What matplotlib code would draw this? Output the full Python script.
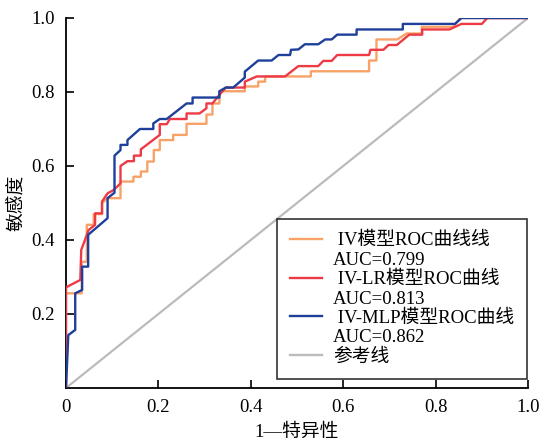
import matplotlib.pyplot as plt
from matplotlib.lines import Line2D

plt.rcParams['font.family'] = ['Liberation Serif', 'Noto Sans CJK SC']

# IV model
fpr_iv = [0, 0, 0.034, 0.034, 0.045, 0.045, 0.06, 0.06, 0.078, 0.078, 0.09, 0.118, 0.118,
          0.146, 0.146, 0.162, 0.162, 0.176, 0.176, 0.19, 0.19, 0.203, 0.203, 0.232, 0.232,
          0.261, 0.261, 0.304, 0.304, 0.317, 0.317, 0.332, 0.332, 0.387, 0.387, 0.416, 0.416,
          0.431, 0.431, 0.530, 0.530, 0.656, 0.656, 0.672, 0.672, 0.717, 0.737, 0.77, 0.77,
          0.838, 0.853, 1.0]
tpr_iv = [0, 0.256, 0.256, 0.341, 0.341, 0.441, 0.441, 0.47, 0.47, 0.5, 0.513, 0.513, 0.558,
          0.558, 0.571, 0.571, 0.585, 0.585, 0.612, 0.612, 0.643, 0.643, 0.670, 0.670, 0.684,
          0.684, 0.714, 0.714, 0.739, 0.739, 0.769, 0.769, 0.802, 0.802, 0.815, 0.815, 0.828,
          0.828, 0.842, 0.842, 0.856, 0.856, 0.885, 0.885, 0.942, 0.942, 0.958, 0.958, 0.976,
          0.976, 1.0, 1.0]

# IV-LR model
fpr_lr = [0, 0, 0.031, 0.033, 0.049, 0.063, 0.063, 0.078, 0.078, 0.09, 0.103, 0.118, 0.118,
          0.133, 0.147, 0.147, 0.162, 0.162, 0.203, 0.203, 0.218, 0.225, 0.261, 0.261, 0.289,
          0.304, 0.304, 0.317, 0.332, 0.346, 0.387, 0.387, 0.413, 0.474, 0.503, 0.546, 0.557,
          0.575, 0.587, 0.656, 0.659, 0.687, 0.698, 0.716, 0.743, 0.771, 0.771, 0.830, 0.856,
          0.900, 0.912, 1.0]
tpr_lr = [0, 0.272, 0.292, 0.373, 0.427, 0.441, 0.472, 0.472, 0.504, 0.526, 0.535, 0.553, 0.6,
          0.613, 0.613, 0.628, 0.628, 0.645, 0.684, 0.713, 0.713, 0.727, 0.727, 0.742, 0.742,
          0.756, 0.769, 0.769, 0.792, 0.812, 0.812, 0.828, 0.842, 0.842, 0.870, 0.870, 0.884,
          0.884, 0.9, 0.9, 0.914, 0.914, 0.927, 0.927, 0.955, 0.955, 0.969, 0.969, 0.984,
          0.984, 1.0, 1.0]

# IV-MLP model
fpr_mlp = [0, 0.005, 0.02, 0.02, 0.035, 0.035, 0.048, 0.048, 0.09, 0.09, 0.105, 0.105, 0.118,
           0.118, 0.133, 0.133, 0.160, 0.189, 0.189, 0.203, 0.218, 0.261, 0.274, 0.274, 0.332,
           0.332, 0.346, 0.362, 0.387, 0.387, 0.416, 0.445, 0.46, 0.485, 0.487, 0.503, 0.517,
           0.546, 0.561, 0.575, 0.587, 0.629, 0.629, 0.729, 0.729, 0.842, 0.856, 1.0]
tpr_mlp = [0, 0.143, 0.157, 0.256, 0.265, 0.328, 0.328, 0.414, 0.459, 0.513, 0.528, 0.628, 0.643,
           0.657, 0.657, 0.670, 0.700, 0.700, 0.715, 0.727, 0.727, 0.769, 0.769, 0.785, 0.785,
           0.802, 0.812, 0.812, 0.839, 0.855, 0.885, 0.885, 0.9, 0.9, 0.914, 0.915, 0.929,
           0.929, 0.942, 0.942, 0.955, 0.955, 0.969, 0.969, 0.984, 0.984, 1.0, 1.0]

labels = [' IV模型ROC曲线线', ' IV-LR模型ROC曲线', ' IV-MLP模型ROC曲线', '参考线']
auc = ['AUC=0.799', 'AUC=0.813', 'AUC=0.862']
colors = ['#F9A267', '#EE3A45', '#1E3F9A', '#BBBBBB']

fig = plt.figure(figsize=(5.4, 4.41), dpi=100)
ax = fig.add_axes([0.1222, 0.1202, 0.8556, 0.839])

ax.plot([0, 1], [0, 1], color=colors[3], lw=1.6, zorder=1)
ax.plot(fpr_iv, tpr_iv, color=colors[0], lw=1.7, zorder=2)
ax.plot(fpr_lr, tpr_lr, color=colors[1], lw=1.7, zorder=3)
ax.plot(fpr_mlp, tpr_mlp, color=colors[2], lw=1.7, zorder=4)

ax.set_xlim(0, 1)
ax.set_ylim(0, 1)
ax.set_xticks([0, 0.2, 0.4, 0.6, 0.8, 1.0])
ax.set_xticklabels(['0', '0.2', '0.4', '0.6', '0.8', '1.0'])
ax.set_yticks([0.2, 0.4, 0.6, 0.8, 1.0])
ax.set_yticklabels(['0.2', '0.4', '0.6', '0.8', '1.0'])
ax.tick_params(direction='in', length=6, width=1.2, labelsize=13.5, pad=8)
ax.spines['top'].set_visible(False)
ax.spines['right'].set_visible(False)
ax.spines['left'].set_linewidth(1.3)
ax.spines['bottom'].set_linewidth(1.3)
ax.set_xlabel('1—特异性', fontsize=13.5, labelpad=5)
ax.set_ylabel('敏感度', fontsize=13.5, labelpad=4)

blank = Line2D([], [], color='none')
handles, texts = [], []
for i in range(3):
    handles += [Line2D([], [], color=colors[i], lw=1.7), blank]
    texts += [labels[i], auc[i]]
handles.append(Line2D([], [], color=colors[3], lw=1.7))
texts.append(labels[3])
leg = ax.legend(handles, texts, loc='lower right', bbox_to_anchor=(0.998, 0.024),
                borderaxespad=0, fontsize=13.5, frameon=True, fancybox=False,
                edgecolor='black', labelspacing=0.12, handlelength=1.7,
                handletextpad=0.6, borderpad=0.7)
leg.get_frame().set_linewidth(1.2)

fig.savefig('out.png', dpi=100)
